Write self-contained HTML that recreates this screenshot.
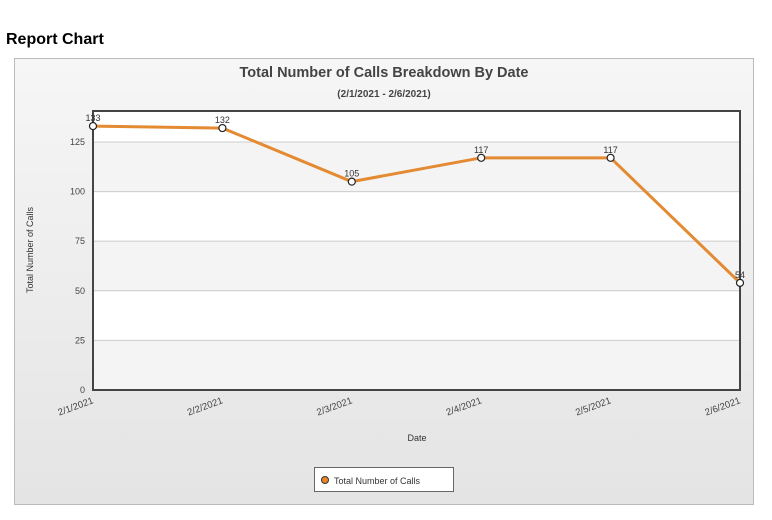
<!DOCTYPE html>
<html><head><meta charset="utf-8"><style>
body{margin:0;background:#fff;font-family:"Liberation Sans",sans-serif;}
</style></head><body>
<div style="position:absolute;left:6px;top:31px;font-weight:bold;font-size:16px;color:#000">Report Chart</div>
<svg width="772" height="520" style="position:absolute;left:0;top:0">
<defs><linearGradient id="bg" x1="0" y1="0" x2="0" y2="1"><stop offset="0" stop-color="#f6f6f6"/><stop offset="1" stop-color="#e4e4e4"/></linearGradient></defs>
<rect x="14.5" y="58.5" width="739" height="446" fill="url(#bg)" stroke="#bbb"/>
<text x="384" y="77" text-anchor="middle" font-size="14.5" font-weight="bold" fill="#444">Total Number of Calls Breakdown By Date</text>
<text x="384" y="97" text-anchor="middle" font-size="10" font-weight="bold" fill="#444">(2/1/2021 - 2/6/2021)</text>
<g id="plot"></g>
<text transform="translate(33,250) rotate(-90)" text-anchor="middle" font-size="9" fill="#333">Total Number of Calls</text>
<text x="417" y="441" text-anchor="middle" font-size="9" fill="#333">Date</text>
<rect x="314.5" y="467.5" width="139" height="24" fill="#fff" stroke="#666"/>
<circle cx="325" cy="480" r="3.5" fill="#e8862a" stroke="#333"/>
<text x="334" y="484" font-size="9" fill="#333">Total Number of Calls</text>
</svg>
<script>
const categories=["2/1/2021","2/2/2021","2/3/2021","2/4/2021","2/5/2021","2/6/2021"];
const values=[133,132,105,117,117,54];
const yTicks=[0,25,50,75,100,125];
const L=93,R=740,T=111,B=390,YMAX=140.6;
const NS="http://www.w3.org/2000/svg";
const g=document.getElementById('plot');
const x=i=>L+(R-L)*i/(categories.length-1);
const y=v=>B-(B-T)*v/YMAX;
function mk(t,a){const e=document.createElementNS(NS,t);for(const k in a)e.setAttribute(k,a[k]);g.appendChild(e);return e;}
const bg=mk('rect',{x:L,y:T,width:R-L,height:B-T,fill:'#f4f4f4'});


const bands=[...yTicks,YMAX];
for(let i=0;i<bands.length-1;i++){if(i%2===0)continue;
 const r=mk('rect',{x:L,y:y(bands[i+1]),width:R-L,height:y(bands[i])-y(bands[i+1]),fill:'#ffffff'});
 
 }
yTicks.forEach(v=>{
 if(v>0){const l=mk('line',{x1:L,x2:R,y1:y(v),y2:y(v),stroke:'#ccc'});
 
 }
 const t=mk('text',{x:L-8,y:y(v)+3,'text-anchor':'end','font-size':9,fill:'#444'});t.textContent=v;
 
 
});
const fr=mk('path',{d:`M${L},${B}V${T}H${R}V${B}Z`,fill:'none',stroke:'#444','stroke-width':2});


categories.forEach((c,i)=>{
 const t=mk('text',{transform:`translate(${x(i)+1},${B+13}) rotate(-20)`,'text-anchor':'end','font-size':9.5,fill:'#444'});t.textContent=c;
 
 
});
const ln=mk('polyline',{points:values.map((v,i)=>x(i)+','+y(v)).join(' '),fill:'none',stroke:'#e38a32','stroke-width':3});


values.forEach((v,i)=>{
 const c=mk('circle',{cx:x(i),cy:y(v),r:3.5,fill:'#fff',stroke:'#222','stroke-width':1.2});
 
 
 const t=mk('text',{x:x(i),y:y(v)-5,'text-anchor':'middle','font-size':9,fill:'#333'});t.textContent=v;
 
 
});
</script>
</body></html>
